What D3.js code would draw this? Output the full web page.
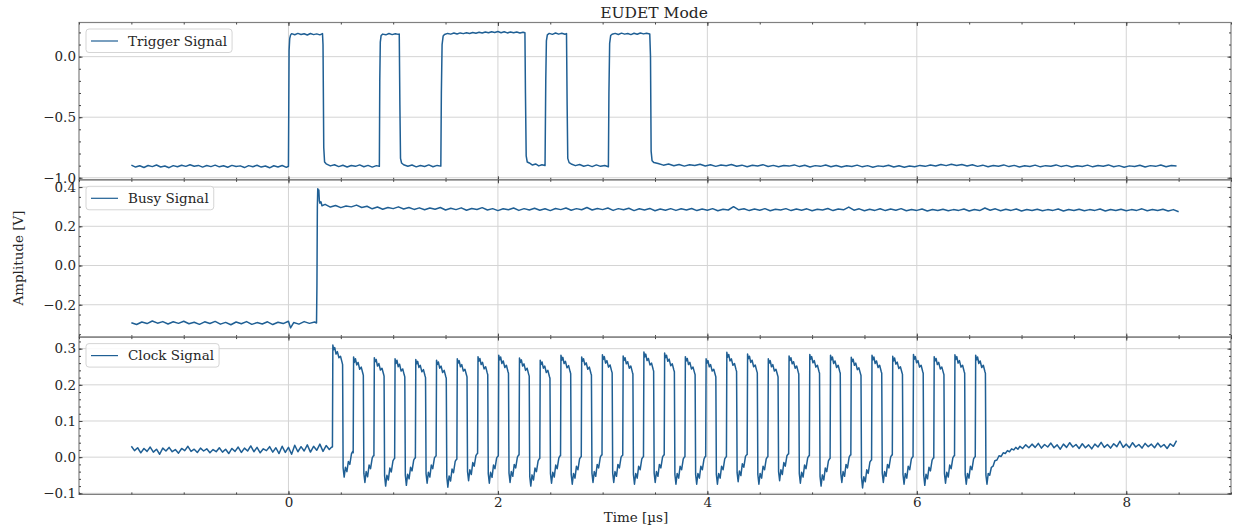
<!DOCTYPE html>
<html>
<head>
<meta charset="utf-8">
<script src="https://cdn.jsdelivr.net/npm/d3@7"></script>
<style>
    body { margin: 0; background: #fff; }
    svg { display: block; font-family: "DejaVu Serif", serif; }
</style>
</head>
<body>
<span></span>
<script>
// ---- data: [time in µs, amplitude in V] ----

var triggerSignal = [
    [-1.50,-0.896],[-1.46,-0.912],[-1.42,-0.901],[-1.38,-0.915],[-1.34,-0.899],[-1.30,-0.908],[-1.26,-0.895],[-1.22,-0.911],
    [-1.18,-0.903],[-1.14,-0.917],[-1.10,-0.900],[-1.06,-0.909],[-1.02,-0.897],[-0.98,-0.906],[-0.94,-0.893],[-0.90,-0.905],
    [-0.86,-0.898],[-0.82,-0.912],[-0.78,-0.899],[-0.74,-0.908],[-0.70,-0.896],[-0.66,-0.910],[-0.62,-0.901],[-0.58,-0.913],
    [-0.54,-0.898],[-0.50,-0.907],[-0.46,-0.902],[-0.42,-0.916],[-0.38,-0.900],[-0.34,-0.909],[-0.30,-0.897],[-0.26,-0.912],
    [-0.22,-0.903],[-0.18,-0.918],[-0.14,-0.901],[-0.10,-0.911],[-0.06,-0.899],[-0.02,-0.914],[0.000,-0.905],
    // pulse 1
    [0.006,0.05],[0.012,0.15],[0.02,0.178],[0.03,0.19],[0.06,0.181],[0.09,0.192],[0.12,0.183],[0.15,0.189],[0.18,0.179],
    [0.21,0.191],[0.24,0.182],[0.27,0.188],[0.30,0.180],[0.325,0.190],
    [0.33,0.10],[0.337,-0.75],[0.345,-0.87],[0.36,-0.885],
    [0.40,-0.902],[0.44,-0.893],[0.48,-0.908],[0.52,-0.897],[0.56,-0.911],[0.60,-0.899],[0.64,-0.906],[0.68,-0.894],
    [0.72,-0.909],[0.76,-0.898],[0.80,-0.912],[0.84,-0.900],[0.868,-0.906],
    // pulse 2
    [0.872,-0.2],[0.877,0.12],[0.885,0.175],[0.90,0.186],[0.93,0.180],[0.96,0.191],[0.99,0.182],[1.02,0.189],[1.05,0.184],[1.058,0.187],
    [1.064,-0.4],[1.07,-0.84],[1.08,-0.878],[1.10,-0.893],
    [1.14,-0.905],[1.18,-0.895],[1.22,-0.910],[1.26,-0.899],[1.30,-0.907],[1.34,-0.894],[1.38,-0.909],[1.42,-0.898],[1.455,-0.904],
    // pulse 3
    [1.46,-0.3],[1.467,0.10],[1.477,0.17],[1.49,0.183],[1.52,0.192],[1.55,0.186],[1.58,0.195],[1.61,0.187],[1.64,0.196],
    [1.67,0.190],[1.70,0.198],[1.73,0.191],[1.76,0.199],[1.79,0.193],[1.82,0.201],[1.85,0.195],[1.88,0.204],[1.91,0.197],
    [1.94,0.206],[1.97,0.199],[2.00,0.207],[2.03,0.198],[2.06,0.205],[2.09,0.196],[2.12,0.204],[2.15,0.197],[2.18,0.203],
    [2.21,0.195],[2.24,0.201],[2.258,0.197],
    [2.263,-0.3],[2.27,-0.82],[2.28,-0.87],[2.30,-0.878],
    [2.33,-0.895],[2.36,-0.886],[2.39,-0.902],[2.42,-0.893],[2.45,-0.899],
    // pulse 4
    [2.457,-0.2],[2.463,0.13],[2.472,0.18],[2.49,0.192],[2.52,0.184],[2.55,0.195],[2.58,0.186],[2.61,0.193],[2.64,0.185],[2.655,0.19],
    [2.661,-0.4],[2.667,-0.84],[2.68,-0.875],[2.70,-0.886],
    [2.74,-0.900],[2.78,-0.891],[2.82,-0.905],[2.86,-0.896],[2.90,-0.908],[2.94,-0.894],[2.98,-0.906],[3.02,-0.899],[3.055,-0.909],
    // pulse 5
    [3.06,-0.3],[3.067,0.11],[3.077,0.175],[3.09,0.185],[3.12,0.192],[3.15,0.183],[3.18,0.194],[3.21,0.186],[3.24,0.191],
    [3.27,0.182],[3.30,0.193],[3.33,0.185],[3.36,0.195],[3.39,0.188],[3.42,0.194],[3.45,0.187],
    [3.457,0.0],[3.463,-0.78],[3.472,-0.86],[3.49,-0.875],
    [3.53,-0.882],[3.58,-0.896],[3.63,-0.887],[3.68,-0.901],[3.73,-0.890],[3.78,-0.904],[3.83,-0.893],[3.88,-0.899],
    [3.93,-0.888],[3.98,-0.903],[4.03,-0.892],[4.08,-0.906],[4.13,-0.895],[4.18,-0.901],[4.23,-0.890],[4.28,-0.905],
    [4.33,-0.896],[4.38,-0.909],[4.43,-0.897],[4.48,-0.903],[4.53,-0.892],[4.58,-0.907],[4.63,-0.898],[4.68,-0.910],
    [4.73,-0.899],[4.78,-0.904],[4.83,-0.894],[4.88,-0.908],[4.93,-0.897],[4.98,-0.911],[5.03,-0.900],[5.08,-0.906],
    [5.13,-0.895],[5.18,-0.909],[5.23,-0.899],[5.28,-0.912],[5.33,-0.901],[5.38,-0.907],[5.43,-0.896],[5.48,-0.910],
    [5.53,-0.900],[5.58,-0.913],[5.63,-0.902],[5.68,-0.908],[5.73,-0.897],[5.78,-0.911],[5.83,-0.901],[5.88,-0.914],
    [5.93,-0.903],[5.98,-0.909],[6.03,-0.898],[6.08,-0.906],[6.13,-0.894],[6.18,-0.903],[6.23,-0.890],[6.28,-0.900],
    [6.33,-0.888],[6.38,-0.899],[6.43,-0.891],[6.48,-0.903],[6.53,-0.893],[6.58,-0.906],[6.63,-0.896],[6.68,-0.909],
    [6.73,-0.899],[6.78,-0.905],[6.83,-0.894],[6.88,-0.908],[6.93,-0.898],[6.98,-0.911],[7.03,-0.901],[7.08,-0.907],
    [7.13,-0.896],[7.18,-0.910],[7.23,-0.900],[7.28,-0.905],[7.33,-0.894],[7.38,-0.908],[7.43,-0.898],[7.48,-0.912],
    [7.53,-0.901],[7.58,-0.907],[7.63,-0.896],[7.68,-0.910],[7.73,-0.899],[7.78,-0.905],[7.83,-0.894],[7.88,-0.909],
    [7.93,-0.900],[7.98,-0.913],[8.03,-0.902],[8.08,-0.908],[8.13,-0.897],[8.18,-0.911],[8.23,-0.900],[8.28,-0.906],
    [8.33,-0.895],[8.38,-0.909],[8.43,-0.899],[8.48,-0.904]
];

var busySignal = [
    [-1.50,-0.292],[-1.45,-0.301],[-1.40,-0.288],[-1.35,-0.296],[-1.30,-0.283],[-1.25,-0.294],[-1.20,-0.286],[-1.15,-0.298],
    [-1.10,-0.287],[-1.05,-0.295],[-1.00,-0.284],[-0.95,-0.297],[-0.90,-0.289],[-0.85,-0.300],[-0.80,-0.287],[-0.75,-0.296],
    [-0.70,-0.285],[-0.65,-0.299],[-0.60,-0.290],[-0.55,-0.302],[-0.50,-0.288],[-0.45,-0.297],[-0.40,-0.286],[-0.35,-0.300],
    [-0.30,-0.291],[-0.25,-0.298],[-0.20,-0.287],[-0.15,-0.301],[-0.10,-0.289],[-0.05,-0.296],[0.00,-0.284],[0.02,-0.318],
    [0.05,-0.291],[0.10,-0.299],[0.15,-0.286],[0.20,-0.295],[0.25,-0.288],[0.268,-0.293],
    [0.272,-0.1],[0.276,0.30],[0.280,0.392],[0.285,0.36],[0.29,0.385],[0.295,0.33],[0.30,0.318],[0.31,0.325],[0.32,0.305],
    [0.35,0.312],[0.40,0.298],[0.45,0.306],[0.50,0.295],[0.55,0.303],[0.60,0.299],[0.65,0.308],[0.70,0.296],
    [0.75,0.302],[0.80,0.289],[0.85,0.298],[0.90,0.287],[0.95,0.296],[1.00,0.290],[1.05,0.299],[1.10,0.288],
    [1.15,0.296],[1.20,0.286],[1.25,0.294],[1.30,0.284],[1.35,0.293],[1.40,0.287],[1.45,0.296],[1.50,0.283],
    [1.55,0.292],[1.60,0.285],[1.65,0.294],[1.70,0.282],[1.75,0.291],[1.80,0.286],[1.85,0.295],[1.90,0.283],
    [1.95,0.290],[2.00,0.280],[2.05,0.289],[2.10,0.284],[2.15,0.293],[2.20,0.281],[2.25,0.290],[2.30,0.283],
    [2.35,0.292],[2.40,0.282],[2.45,0.289],[2.50,0.280],[2.55,0.291],[2.60,0.285],[2.65,0.293],[2.70,0.282],
    [2.75,0.290],[2.80,0.284],[2.85,0.296],[2.90,0.283],[2.95,0.291],[3.00,0.285],[3.05,0.293],[3.10,0.281],
    [3.15,0.290],[3.20,0.284],[3.25,0.292],[3.30,0.280],[3.35,0.289],[3.40,0.283],[3.45,0.291],[3.50,0.279],
    [3.55,0.288],[3.60,0.282],[3.65,0.290],[3.70,0.281],[3.75,0.289],[3.80,0.283],[3.85,0.291],[3.90,0.280],
    [3.95,0.288],[4.00,0.282],[4.05,0.290],[4.10,0.279],[4.15,0.287],[4.20,0.283],[4.25,0.300],[4.30,0.284],
    [4.35,0.289],[4.40,0.280],[4.45,0.288],[4.50,0.282],[4.55,0.290],[4.60,0.279],[4.65,0.287],[4.70,0.283],
    [4.75,0.290],[4.80,0.280],[4.85,0.288],[4.90,0.282],[4.95,0.289],[5.00,0.279],[5.05,0.287],[5.10,0.283],
    [5.15,0.291],[5.20,0.280],[5.25,0.288],[5.30,0.284],[5.35,0.298],[5.40,0.282],[5.45,0.289],[5.50,0.279],
    [5.55,0.287],[5.60,0.281],[5.65,0.289],[5.70,0.280],[5.75,0.288],[5.80,0.282],[5.85,0.290],[5.90,0.279],
    [5.95,0.286],[6.00,0.281],[6.05,0.288],[6.10,0.278],[6.15,0.286],[6.20,0.280],[6.25,0.287],[6.30,0.279],
    [6.35,0.285],[6.40,0.281],[6.45,0.288],[6.50,0.278],[6.55,0.286],[6.60,0.280],[6.65,0.293],[6.70,0.282],
    [6.75,0.289],[6.80,0.279],[6.85,0.287],[6.90,0.281],[6.95,0.288],[7.00,0.278],[7.05,0.286],[7.10,0.280],
    [7.15,0.287],[7.20,0.279],[7.25,0.285],[7.30,0.281],[7.35,0.288],[7.40,0.278],[7.45,0.286],[7.50,0.280],
    [7.55,0.287],[7.60,0.279],[7.65,0.285],[7.70,0.281],[7.75,0.288],[7.80,0.278],[7.85,0.286],[7.90,0.280],
    [7.95,0.287],[8.00,0.279],[8.05,0.285],[8.10,0.281],[8.15,0.289],[8.20,0.279],[8.25,0.286],[8.30,0.280],
    [8.35,0.287],[8.40,0.278],[8.45,0.285],[8.50,0.274]
];

var clockSignal = [
    [-1.50,0.030],[-1.47,0.018],[-1.44,0.026],[-1.41,0.012],[-1.38,0.024],[-1.35,0.016],[-1.32,0.028],[-1.29,0.014],
    [-1.26,0.022],[-1.23,0.008],[-1.20,0.025],[-1.17,0.017],[-1.14,0.027],[-1.11,0.015],[-1.08,0.021],[-1.05,0.011],
    [-1.02,0.024],[-0.99,0.018],[-0.96,0.030],[-0.93,0.016],[-0.90,0.022],[-0.87,0.013],[-0.84,0.025],[-0.81,0.017],
    [-0.78,0.023],[-0.75,0.012],[-0.72,0.021],[-0.69,0.015],[-0.66,0.026],[-0.63,0.014],[-0.60,0.022],[-0.57,0.010],
    [-0.54,0.024],[-0.51,0.016],[-0.48,0.028],[-0.45,0.013],[-0.42,0.025],[-0.39,0.017],[-0.36,0.031],[-0.33,0.015],
    [-0.30,0.027],[-0.27,0.012],[-0.24,0.023],[-0.21,0.018],[-0.18,0.029],[-0.15,0.014],[-0.12,0.026],[-0.09,0.010],
    [-0.06,0.030],[-0.03,0.013],[0.00,0.027],[0.03,0.008],[0.06,0.033],[0.09,0.015],[0.12,0.029],[0.15,0.017],
    [0.18,0.034],[0.21,0.014],[0.24,0.030],[0.27,0.019],[0.30,0.036],[0.33,0.016],[0.36,0.032],[0.39,0.021],[0.413,0.028],
    // clock cycles
    [0.420,0.028],[0.424,0.310],[0.432,0.297],[0.442,0.303],[0.454,0.285],[0.467,0.292],[0.482,0.275],[0.497,0.279],[0.512,0.262],[0.517,0.256],[0.522,-0.030],[0.532,-0.055],[0.544,-0.028],[0.558,-0.040],[0.572,-0.012],[0.586,-0.020],[0.602,0.010],[0.614,0.016],
    [0.618,0.012],[0.622,0.277],[0.630,0.262],[0.640,0.272],[0.652,0.255],[0.665,0.262],[0.680,0.243],[0.695,0.249],[0.710,0.232],[0.715,0.226],[0.720,-0.045],[0.730,-0.070],[0.742,-0.040],[0.756,-0.054],[0.770,-0.022],[0.784,-0.032],[0.800,-0.002],[0.812,0.004],
    [0.816,0.004],[0.820,0.275],[0.828,0.264],[0.838,0.270],[0.850,0.252],[0.863,0.259],[0.878,0.241],[0.893,0.246],[0.908,0.230],[0.913,0.224],[0.918,-0.052],[0.928,-0.080],[0.940,-0.050],[0.954,-0.063],[0.968,-0.030],[0.982,-0.041],[0.998,-0.010],[1.010,-0.004],
    [1.014,-0.004],[1.018,0.272],[1.026,0.259],[1.036,0.268],[1.048,0.250],[1.061,0.257],[1.076,0.238],[1.091,0.244],[1.106,0.227],[1.111,0.222],[1.116,-0.050],[1.126,-0.078],[1.138,-0.047],[1.152,-0.060],[1.166,-0.028],[1.180,-0.038],[1.196,-0.008],[1.208,-0.002],
    [1.212,-0.002],[1.216,0.270],[1.224,0.258],[1.234,0.265],[1.246,0.248],[1.259,0.254],[1.274,0.236],[1.289,0.242],[1.304,0.225],[1.309,0.220],[1.314,-0.046],[1.324,-0.072],[1.336,-0.042],[1.350,-0.055],[1.364,-0.022],[1.378,-0.032],[1.394,-0.002],[1.406,0.003],
    [1.410,0.003],[1.414,0.268],[1.422,0.256],[1.432,0.263],[1.444,0.246],[1.457,0.252],[1.472,0.234],[1.487,0.240],[1.502,0.223],[1.507,0.218],[1.512,-0.055],[1.522,-0.083],[1.534,-0.052],[1.548,-0.066],[1.562,-0.033],[1.576,-0.043],[1.592,-0.012],[1.604,-0.006],
    [1.608,-0.006],[1.612,0.272],[1.620,0.260],[1.630,0.267],[1.642,0.250],[1.655,0.256],[1.670,0.238],[1.685,0.243],[1.700,0.227],[1.705,0.222],[1.710,-0.040],[1.720,-0.065],[1.732,-0.035],[1.746,-0.048],[1.760,-0.015],[1.774,-0.025],[1.790,0.004],[1.802,0.010],
    [1.806,0.010],[1.810,0.278],[1.818,0.265],[1.828,0.273],[1.840,0.256],[1.853,0.262],[1.868,0.244],[1.883,0.250],[1.898,0.233],[1.903,0.228],[1.908,-0.046],[1.918,-0.072],[1.930,-0.042],[1.944,-0.056],[1.958,-0.022],[1.972,-0.032],[1.988,-0.002],[2.000,0.003],
    [2.004,0.003],[2.008,0.282],[2.016,0.269],[2.026,0.277],[2.038,0.259],[2.051,0.266],[2.066,0.248],[2.081,0.254],[2.096,0.237],[2.101,0.232],[2.106,-0.044],[2.116,-0.070],[2.128,-0.040],[2.142,-0.053],[2.156,-0.020],[2.170,-0.030],[2.186,0.000],[2.198,0.006],
    [2.202,0.006],[2.206,0.274],[2.214,0.262],[2.224,0.269],[2.236,0.252],[2.249,0.258],[2.264,0.240],[2.279,0.246],[2.294,0.229],[2.299,0.224],[2.304,-0.053],[2.314,-0.080],[2.326,-0.049],[2.340,-0.063],[2.354,-0.030],[2.368,-0.040],[2.384,-0.010],[2.396,-0.004],
    [2.400,-0.004],[2.404,0.268],[2.412,0.256],[2.422,0.263],[2.434,0.246],[2.447,0.252],[2.462,0.234],[2.477,0.240],[2.492,0.223],[2.497,0.218],[2.502,-0.046],[2.512,-0.072],[2.524,-0.042],[2.538,-0.055],[2.552,-0.022],[2.566,-0.032],[2.582,-0.002],[2.594,0.004],
    [2.598,0.004],[2.602,0.282],[2.610,0.268],[2.620,0.276],[2.632,0.259],[2.645,0.265],[2.660,0.247],[2.675,0.253],[2.690,0.236],[2.695,0.231],[2.700,-0.048],[2.710,-0.075],[2.722,-0.045],[2.736,-0.058],[2.750,-0.025],[2.764,-0.035],[2.780,-0.005],[2.792,0.001],
    [2.796,0.001],[2.800,0.277],[2.808,0.265],[2.818,0.272],[2.830,0.255],[2.843,0.261],[2.858,0.243],[2.873,0.249],[2.888,0.232],[2.893,0.227],[2.898,-0.044],[2.908,-0.070],[2.920,-0.040],[2.934,-0.053],[2.948,-0.020],[2.962,-0.030],[2.978,0.000],[2.990,0.006],
    [2.994,0.006],[2.998,0.283],[3.006,0.270],[3.016,0.278],[3.028,0.260],[3.041,0.267],[3.056,0.249],[3.071,0.255],[3.086,0.238],[3.091,0.233],[3.096,-0.044],[3.106,-0.070],[3.118,-0.040],[3.132,-0.053],[3.146,-0.020],[3.160,-0.030],[3.176,0.000],[3.188,0.005],
    [3.192,0.005],[3.196,0.280],[3.204,0.267],[3.214,0.275],[3.226,0.258],[3.239,0.264],[3.254,0.246],[3.269,0.252],[3.284,0.235],[3.289,0.230],[3.294,-0.048],[3.304,-0.075],[3.316,-0.045],[3.330,-0.058],[3.344,-0.025],[3.358,-0.035],[3.374,-0.005],[3.386,0.001],
    [3.390,0.001],[3.394,0.291],[3.402,0.277],[3.412,0.285],[3.424,0.267],[3.437,0.273],[3.452,0.255],[3.467,0.260],[3.482,0.243],[3.487,0.238],[3.492,-0.044],[3.502,-0.070],[3.514,-0.040],[3.528,-0.053],[3.542,-0.020],[3.556,-0.030],[3.572,0.000],[3.584,0.006],
    [3.588,0.006],[3.592,0.288],[3.600,0.275],[3.610,0.282],[3.622,0.265],[3.635,0.271],[3.650,0.253],[3.665,0.258],[3.680,0.241],[3.685,0.236],[3.690,-0.048],[3.700,-0.075],[3.712,-0.045],[3.726,-0.058],[3.740,-0.025],[3.754,-0.035],[3.770,-0.005],[3.782,0.001],
    [3.786,0.001],[3.790,0.278],[3.798,0.266],[3.808,0.273],[3.820,0.256],[3.833,0.262],[3.848,0.244],[3.863,0.249],[3.878,0.233],[3.883,0.228],[3.888,-0.048],[3.898,-0.075],[3.910,-0.045],[3.924,-0.058],[3.938,-0.025],[3.952,-0.035],[3.968,-0.005],[3.980,0.002],
    [3.984,0.002],[3.988,0.272],[3.996,0.260],[4.006,0.267],[4.018,0.250],[4.031,0.256],[4.046,0.238],[4.061,0.243],[4.076,0.227],[4.081,0.222],[4.086,-0.048],[4.096,-0.075],[4.108,-0.045],[4.122,-0.058],[4.136,-0.025],[4.150,-0.035],[4.166,-0.005],[4.178,0.001],
    [4.182,0.001],[4.186,0.290],[4.194,0.276],[4.204,0.284],[4.216,0.266],[4.229,0.272],[4.244,0.254],[4.259,0.259],[4.274,0.242],[4.279,0.237],[4.284,-0.043],[4.294,-0.068],[4.306,-0.038],[4.320,-0.051],[4.334,-0.018],[4.348,-0.028],[4.364,0.002],[4.376,0.007],
    [4.380,0.007],[4.384,0.285],[4.392,0.272],[4.402,0.279],[4.414,0.262],[4.427,0.268],[4.442,0.250],[4.457,0.255],[4.472,0.238],[4.477,0.233],[4.482,-0.048],[4.492,-0.075],[4.504,-0.045],[4.518,-0.058],[4.532,-0.025],[4.546,-0.035],[4.562,-0.005],[4.574,0.001],
    [4.578,0.001],[4.582,0.272],[4.590,0.260],[4.600,0.267],[4.612,0.250],[4.625,0.256],[4.640,0.238],[4.655,0.243],[4.670,0.227],[4.675,0.222],[4.680,-0.040],[4.690,-0.065],[4.702,-0.035],[4.716,-0.048],[4.730,-0.015],[4.744,-0.025],[4.760,0.004],[4.772,0.009],
    [4.776,0.009],[4.780,0.280],[4.788,0.267],[4.798,0.275],[4.810,0.258],[4.823,0.264],[4.838,0.246],[4.853,0.252],[4.868,0.235],[4.873,0.230],[4.878,-0.046],[4.888,-0.072],[4.900,-0.042],[4.914,-0.055],[4.928,-0.022],[4.942,-0.032],[4.958,-0.002],[4.970,0.004],
    [4.974,0.004],[4.978,0.284],[4.986,0.271],[4.996,0.278],[5.008,0.261],[5.021,0.267],[5.036,0.249],[5.051,0.254],[5.066,0.237],[5.071,0.232],[5.076,-0.053],[5.086,-0.080],[5.098,-0.049],[5.112,-0.063],[5.126,-0.030],[5.140,-0.040],[5.156,-0.010],[5.168,-0.004],
    [5.172,-0.004],[5.176,0.282],[5.184,0.269],[5.194,0.277],[5.206,0.259],[5.219,0.266],[5.234,0.248],[5.249,0.254],[5.264,0.237],[5.269,0.232],[5.274,-0.044],[5.284,-0.070],[5.296,-0.040],[5.310,-0.053],[5.324,-0.020],[5.338,-0.030],[5.354,0.000],[5.366,0.006],
    [5.370,0.006],[5.374,0.276],[5.382,0.264],[5.392,0.271],[5.404,0.254],[5.417,0.260],[5.432,0.242],[5.447,0.247],[5.462,0.231],[5.467,0.226],[5.472,-0.056],[5.482,-0.085],[5.494,-0.054],[5.508,-0.068],[5.522,-0.035],[5.536,-0.045],[5.552,-0.014],[5.564,-0.008],
    [5.568,-0.008],[5.572,0.282],[5.580,0.269],[5.590,0.277],[5.602,0.259],[5.615,0.266],[5.630,0.248],[5.645,0.254],[5.660,0.237],[5.665,0.232],[5.670,-0.044],[5.680,-0.070],[5.692,-0.040],[5.706,-0.053],[5.720,-0.020],[5.734,-0.030],[5.750,0.000],[5.762,0.006],
    [5.766,0.006],[5.770,0.279],[5.778,0.266],[5.788,0.274],[5.800,0.257],[5.813,0.263],[5.828,0.245],[5.843,0.250],[5.858,0.234],[5.863,0.229],[5.868,-0.048],[5.878,-0.075],[5.890,-0.045],[5.904,-0.058],[5.918,-0.025],[5.932,-0.035],[5.948,-0.005],[5.960,0.001],
    [5.964,0.001],[5.968,0.284],[5.976,0.271],[5.986,0.278],[5.998,0.261],[6.011,0.267],[6.026,0.249],[6.041,0.254],[6.056,0.237],[6.061,0.232],[6.066,-0.050],[6.076,-0.078],[6.088,-0.047],[6.102,-0.060],[6.116,-0.028],[6.130,-0.038],[6.146,-0.008],[6.158,-0.002],
    [6.162,-0.002],[6.166,0.278],[6.174,0.266],[6.184,0.273],[6.196,0.256],[6.209,0.262],[6.224,0.244],[6.239,0.249],[6.254,0.233],[6.259,0.228],[6.264,-0.046],[6.274,-0.072],[6.286,-0.042],[6.300,-0.055],[6.314,-0.022],[6.328,-0.032],[6.344,-0.002],[6.356,0.004],
    [6.360,0.004],[6.364,0.283],[6.372,0.270],[6.382,0.278],[6.394,0.260],[6.407,0.267],[6.422,0.249],[6.437,0.254],[6.452,0.237],[6.457,0.232],[6.462,-0.048],[6.472,-0.075],[6.484,-0.045],[6.498,-0.058],[6.512,-0.025],[6.526,-0.035],[6.542,-0.005],[6.554,0.001],
    [6.558,0.001],[6.562,0.282],[6.570,0.269],[6.580,0.277],[6.592,0.259],[6.605,0.266],[6.620,0.248],[6.635,0.254],[6.650,0.237],[6.655,0.232],[6.660,-0.050],[6.670,-0.075],[6.682,-0.045],[6.696,-0.050],[6.712,-0.028],[6.728,-0.025],
    // recovery after the last cycle
    [6.745,-0.010],[6.765,-0.008],[6.785,0.004],[6.805,0.002],[6.825,0.012],[6.845,0.010],[6.865,0.018],[6.885,0.015],
    [6.905,0.023],[6.925,0.020],[6.945,0.027],[6.965,0.022],[6.985,0.030],[7.01,0.024],[7.04,0.034],[7.07,0.026],
    [7.10,0.036],[7.13,0.027],[7.16,0.038],[7.19,0.025],[7.22,0.035],[7.25,0.028],[7.28,0.039],[7.31,0.026],
    [7.34,0.034],[7.37,0.022],[7.40,0.036],[7.43,0.027],[7.46,0.040],[7.49,0.028],[7.52,0.035],[7.55,0.024],
    [7.58,0.037],[7.61,0.026],[7.64,0.034],[7.67,0.023],[7.70,0.036],[7.73,0.028],[7.76,0.041],[7.79,0.027],
    [7.82,0.035],[7.85,0.025],[7.88,0.037],[7.91,0.029],[7.94,0.044],[7.97,0.027],[8.00,0.036],[8.03,0.026],
    [8.06,0.040],[8.09,0.028],[8.12,0.035],[8.15,0.025],[8.18,0.038],[8.21,0.029],[8.24,0.036],[8.27,0.026],
    [8.30,0.039],[8.33,0.028],[8.36,0.035],[8.39,0.024],[8.42,0.037],[8.45,0.030],[8.48,0.046]
];

var signalNames = ["Trigger Signal", "Busy Signal", "Clock Signal"];
var xDomain = [-2.0, 9.0];
var xTicks = [0, 2, 4, 6, 8];
var yDomains = [[-1.017, 0.282], [-0.365, 0.437], [-0.103, 0.332]];
var yTicks = [[-1.0, -0.5, 0.0], [-0.2, 0.0, 0.2, 0.4], [-0.1, 0.0, 0.1, 0.2, 0.3]];
var yMinorStep = [0.1, 0.05, 0.02];

window.onload = function scope(){
    var width = 1234;
    var height = 527;
    var left = 79;
    var right = 1231;
    var top = 22.5;
    var panelH = 157.3;
    var lineColor = "#1f5f94";
    var frameColor = "#808080";
    var gridColor = "#d4d4d4";
    var textColor = "#262626";
    var fontSize = 13.5;

    var signals = [triggerSignal, busySignal, clockSignal];

    var svg = d3.select("span")
        .append("svg")
        .attr("width", width)
        .attr("height", height);

    var x = d3.scaleLinear().domain(xDomain).range([left, right]);
    var xMinor = d3.range(-2, 9.01, 0.5);

    signals.forEach(function(data, i) {
        var y0 = top + i * panelH;
        var y = d3.scaleLinear().domain(yDomains[i]).range([y0 + panelH, y0]);
        var yMinor = d3.range(yTicks[i][0] - 5 * yMinorStep[i], yDomains[i][1], yMinorStep[i])
            .filter(function(v) { return v >= yDomains[i][0] && v <= yDomains[i][1]; });
        var g = svg.append("g").attr("class", "panel");

        // grid
        g.append("g")
            .selectAll("line")
            .data(xTicks)
            .enter()
            .append("line")
            .attr("x1", function(d) { return x(d); })
            .attr("x2", function(d) { return x(d); })
            .attr("y1", y0)
            .attr("y2", y0 + panelH)
            .attr("stroke", gridColor)
            .attr("stroke-width", 1);
        g.append("g")
            .selectAll("line")
            .data(yTicks[i])
            .enter()
            .append("line")
            .attr("x1", left)
            .attr("x2", right)
            .attr("y1", function(d) { return y(d); })
            .attr("y2", function(d) { return y(d); })
            .attr("stroke", gridColor)
            .attr("stroke-width", 1);

        // trace
        g.append("path")
            .datum(data)
            .attr("fill", "none")
            .attr("stroke", lineColor)
            .attr("stroke-width", 1.5)
            .attr("stroke-linejoin", "round")
            .attr("d", d3.line()
                .x(function(d) { return x(d[0]); })
                .y(function(d) { return y(d[1]); }));

        // frame
        g.append("rect")
            .attr("x", left)
            .attr("y", y0)
            .attr("width", right - left)
            .attr("height", panelH)
            .attr("fill", "none")
            .attr("stroke", frameColor)
            .attr("stroke-width", 1.2);

        // ticks, pointing inwards on all four sides
        var axes = [
            d3.axisLeft(y).tickValues(yTicks[i]).tickSizeInner(-3.5).tickPadding(3).tickFormat(d3.format(".1f")),
            d3.axisLeft(y).tickValues(yMinor).tickSizeInner(-2).tickFormat(""),
            d3.axisRight(y).tickValues(yTicks[i]).tickSizeInner(-3.5).tickFormat(""),
            d3.axisRight(y).tickValues(yMinor).tickSizeInner(-2).tickFormat(""),
            d3.axisTop(x).tickValues(xTicks).tickSizeInner(-3.5).tickFormat(""),
            d3.axisTop(x).tickValues(xMinor).tickSizeInner(-2).tickFormat(""),
            d3.axisBottom(x).tickValues(xTicks).tickSizeInner(-3.5).tickPadding(3.5)
                .tickFormat(i === 2 ? d3.format("d") : ""),
            d3.axisBottom(x).tickValues(xMinor).tickSizeInner(-2).tickFormat("")
        ];
        var shifts = [[left, 0], [left, 0], [right, 0], [right, 0], [0, y0], [0, y0], [0, y0 + panelH], [0, y0 + panelH]];
        axes.forEach(function(ax, k) {
            var a = g.append("g")
                .attr("transform", "translate(" + shifts[k][0] + "," + shifts[k][1] + ")")
                .call(ax.tickSizeOuter(0));
            a.select(".domain").remove();
            a.selectAll("line").attr("stroke", "#444");
            a.selectAll("text")
                .attr("fill", textColor)
                .style("font-family", "'DejaVu Serif', serif")
                .style("font-size", fontSize + "px");
        });

        // legend
        var lg = g.append("g").attr("transform", "translate(" + 86 + "," + (y0 + 6.5) + ")");
        var box = lg.append("rect")
            .attr("height", 23.5)
            .attr("rx", 3)
            .attr("fill", "#fff")
            .attr("fill-opacity", 0.85)
            .attr("stroke", "#d5d5d5");
        lg.append("line")
            .attr("x1", 5)
            .attr("x2", 32)
            .attr("y1", 12)
            .attr("y2", 12)
            .attr("stroke", lineColor)
            .attr("stroke-width", 1.2);
        var label = lg.append("text")
            .attr("x", 42)
            .attr("y", 16.5)
            .attr("fill", textColor)
            .style("font-size", fontSize + "px")
            .text(signalNames[i]);
        box.attr("width", 42 + label.node().getComputedTextLength() + 5);
    });

    svg.append("text")
        .attr("x", 654)
        .attr("y", 18)
        .attr("text-anchor", "middle")
        .attr("fill", textColor)
        .style("font-size", "15.5px")
        .text("EUDET Mode");

    svg.append("text")
        .attr("x", 636)
        .attr("y", 522)
        .attr("text-anchor", "middle")
        .attr("fill", textColor)
        .style("font-size", fontSize + "px")
        .text("Time [µs]");

    svg.append("text")
        .attr("transform", "translate(23,258) rotate(-90)")
        .attr("text-anchor", "middle")
        .attr("fill", textColor)
        .style("font-size", fontSize + "px")
        .text("Amplitude [V]");
};
</script>
</body>
</html>
